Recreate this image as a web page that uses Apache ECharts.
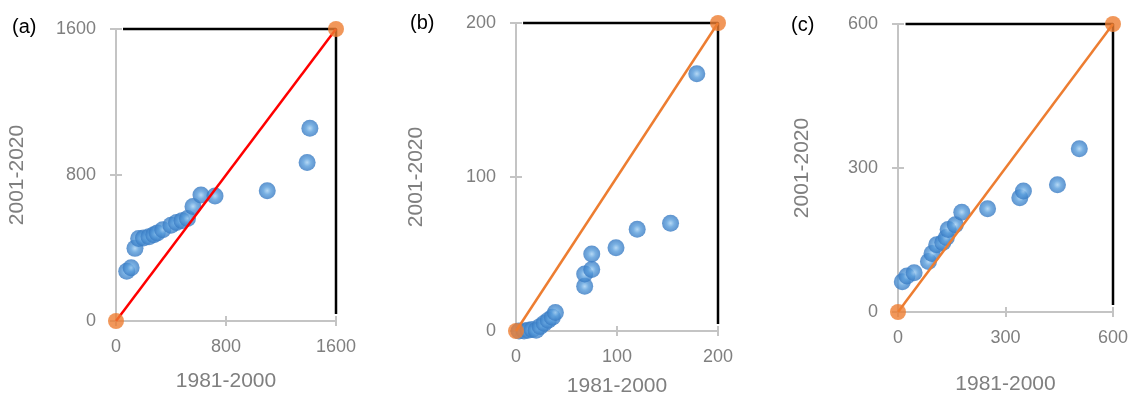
<!DOCTYPE html>
<html>
<head>
<meta charset="utf-8">
<script src="https://cdn.jsdelivr.net/npm/echarts@6/dist/echarts.min.js"></script>
<style>
  html, body { margin: 0; padding: 0; background: #fff; }
  #chart { width: 1137px; height: 402px; }
</style>
</head>
<body>
<div id="chart"></div>
<script>
// panel (a)
var pointsA = [[78, 272], [110, 292], [138, 398], [165, 452], [200, 455], [240, 462], [275, 472],
    [300, 482], [340, 500], [400, 525], [440, 540], [480, 550], [520, 562], [560, 628],
    [618, 690], [720, 685], [1100, 714], [1390, 869], [1410, 1056]];
var diagA = [[0, 0], [1600, 1600]];
var frameA = [[51, 1600], [1600, 1600], [1600, 38]];
var ticksA = [0, 800, 1600];

// panel (b)
var pointsB = [[3, 0], [8, 0], [12, 0.5], [16, 1], [20, 0.5], [24, 3], [28, 5], [32, 7], [36, 9],
    [39, 12], [68, 29], [68, 37], [75, 40], [75, 50], [99, 54], [120, 66], [153, 70], [179, 167]];
var diagB = [[0, 0], [200, 200]];
var frameB = [[7, 200], [200, 200], [200, 4.5]];
var ticksB = [0, 100, 200];

// panel (c)
var pointsC = [[12, 63], [25, 75], [45, 82], [85, 105], [95, 122], [108, 140], [125, 145],
    [135, 155], [140, 172], [160, 182], [178, 208], [250, 215], [340, 238], [350, 252],
    [445, 265], [506, 340]];
var diagC = [[0, 0], [600, 600]];
var frameC = [[21, 600], [600, 600], [600, 14.6]];
var ticksC = [0, 300, 600];

var panelNames = ['(a)', '(b)', '(c)'];
var xTitle = '1981-2000';
var yTitle = '2001-2020';

var chart = echarts.init(document.getElementById('chart'));

var grids = [
    { left: 116, top: 29, width: 220, height: 292 },
    { left: 516, top: 23, width: 202, height: 309 },
    { left: 898, top: 24, width: 215, height: 288 }
];
var xGaps = [50, 45, 62];
var yGaps = [88, 89, 85];
var diagColors = ['#ff0000', '#ed7d31', '#ed7d31'];
var panels = [
    { pts: pointsA, diag: diagA, frame: frameA, ticks: ticksA },
    { pts: pointsB, diag: diagB, frame: frameB, ticks: ticksB },
    { pts: pointsC, diag: diagC, frame: frameC, ticks: ticksC }
];

var axisGray = '#c4c4c4';
var textGray = '#7f7f7f';
var font = 'Liberation Sans';

var sphere = {
    type: 'radial', x: 0.5, y: 0.5, r: 0.5,
    colorStops: [
        { offset: 0, color: '#a3cff2' },
        { offset: 0.45, color: '#579cdb' },
        { offset: 1, color: '#3679c2' }
    ]
};

function plain(v) { return String(v); }

var xAxes = [], yAxes = [], series = [];

panels.forEach(function (p, i) {
    var max = p.ticks[p.ticks.length - 1];
    var step = p.ticks[1] - p.ticks[0];
    // main axes (outside ticks + labels)
    xAxes.push({
        type: 'value', gridIndex: i, min: 0, max: max, interval: step,
        name: xTitle, nameLocation: 'middle', nameGap: xGaps[i],
        nameTextStyle: { color: textGray, fontSize: 21, fontFamily: font },
        axisLine: { show: true, lineStyle: { color: axisGray, width: 2 } },
        axisTick: { show: true, length: 5, lineStyle: { color: axisGray, width: 2 } },
        axisLabel: { color: textGray, fontSize: 18, fontFamily: font, margin: 17, formatter: plain },
        splitLine: { show: false }
    });
    yAxes.push({
        type: 'value', gridIndex: i, min: 0, max: max, interval: step,
        name: yTitle, nameLocation: 'middle', nameGap: yGaps[i],
        nameTextStyle: { color: textGray, fontSize: 21, fontFamily: font },
        axisLine: { show: true, lineStyle: { color: axisGray, width: 2 } },
        axisTick: { show: true, length: 6, lineStyle: { color: axisGray, width: 2 } },
        axisLabel: { color: textGray, fontSize: 18, fontFamily: font, margin: 20, formatter: plain },
        splitLine: { show: false }
    });
    // twin axes for the inner half of the cross ticks
    xAxes.push({
        type: 'value', gridIndex: i, min: 0, max: max, interval: step, position: 'bottom',
        axisLine: { show: false },
        axisTick: { show: true, inside: true, length: 5, lineStyle: { color: axisGray, width: 2 } },
        axisLabel: { show: false }, splitLine: { show: false }
    });
    yAxes.push({
        type: 'value', gridIndex: i, min: 0, max: max, interval: step, position: 'left',
        axisLine: { show: false },
        axisTick: { show: true, inside: true, length: 6, lineStyle: { color: axisGray, width: 2 } },
        axisLabel: { show: false }, splitLine: { show: false }
    });

    var xi = i * 2, yi = i * 2;
    series.push({
        type: 'scatter', xAxisIndex: xi, yAxisIndex: yi, data: p.pts,
        symbolSize: 17, clip: false, z: 2,
        itemStyle: { color: sphere }
    });
    series.push({
        type: 'line', xAxisIndex: xi, yAxisIndex: yi, data: p.frame,
        symbol: 'none', clip: false, z: 3,
        lineStyle: { color: '#000', width: 2.5 }
    });
    series.push({
        type: 'line', xAxisIndex: xi, yAxisIndex: yi, data: p.diag,
        symbol: 'none', clip: false, z: 4,
        lineStyle: { color: diagColors[i], width: 2.5 }
    });
    series.push({
        type: 'scatter', xAxisIndex: xi, yAxisIndex: yi, data: p.diag,
        symbolSize: 16, clip: false, z: 5,
        itemStyle: { color: '#ed7d31' }
    });
});

var titleStyle = { color: '#000', fontSize: 20, fontWeight: 'normal', fontFamily: font };

var option = {
    backgroundColor: '#fff',
    animation: false,
    title: [
        { text: panelNames[0], left: 7, top: 12, textStyle: titleStyle },
        { text: panelNames[1], left: 405, top: 8, textStyle: titleStyle },
        { text: panelNames[2], left: 786, top: 10, textStyle: titleStyle }
    ],
    grid: grids,
    xAxis: xAxes,
    yAxis: yAxes,
    series: series
};

option && chart.setOption(option);
</script>
</body>
</html>
